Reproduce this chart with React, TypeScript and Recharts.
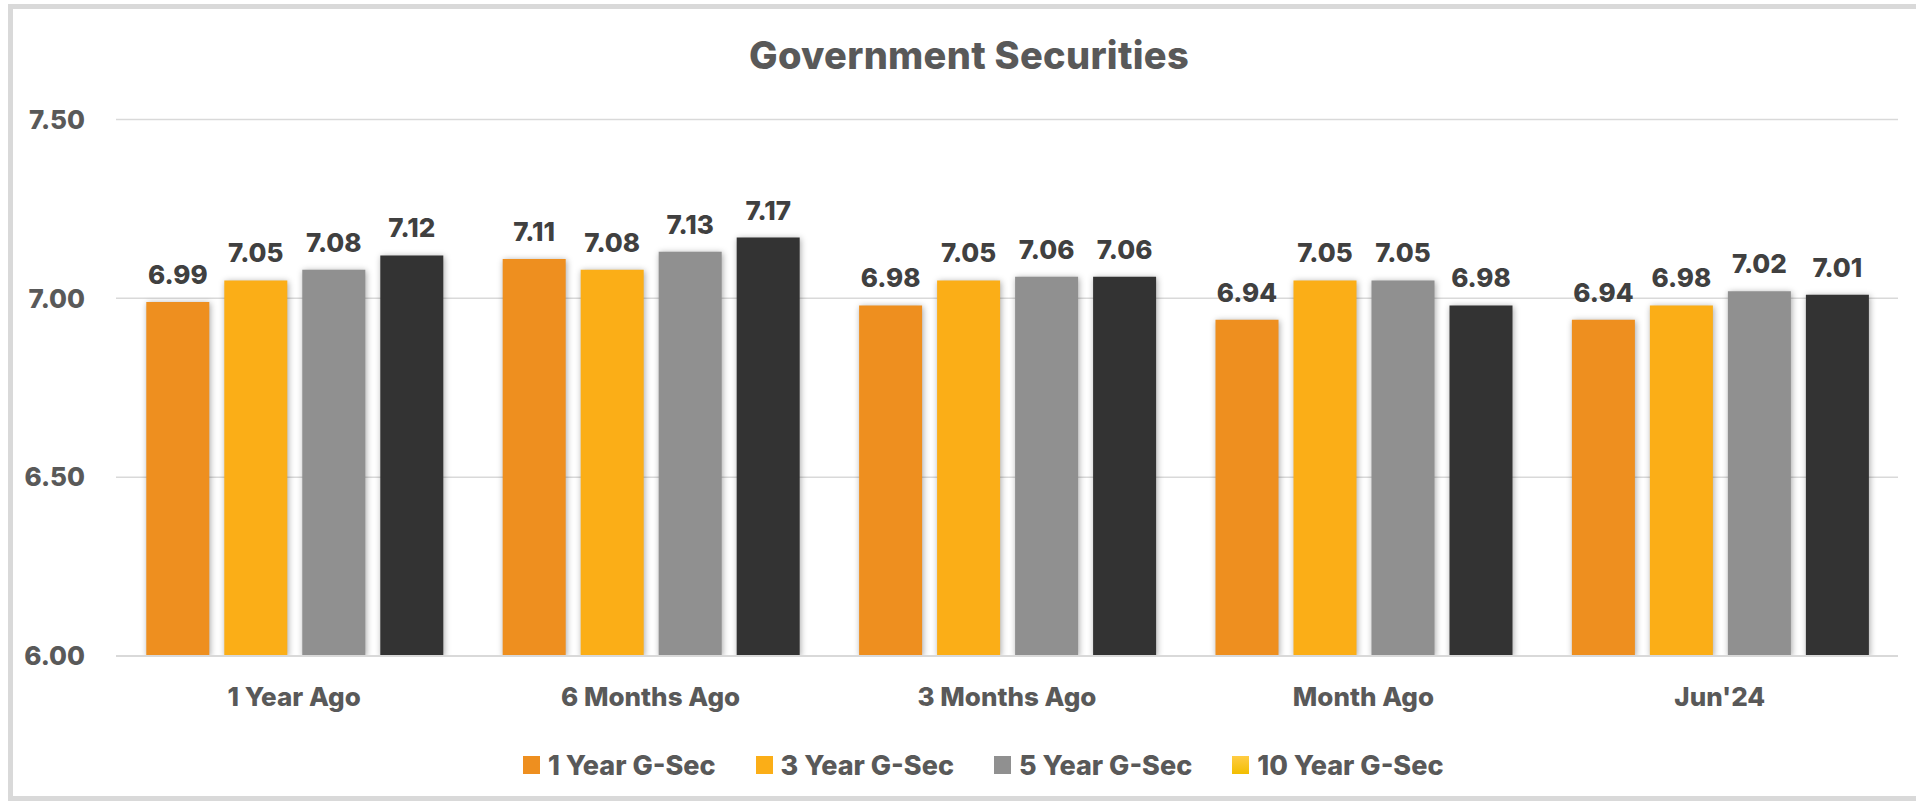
import React from 'react';
import { BarChart, Bar, XAxis, YAxis, CartesianGrid, LabelList, Rectangle } from 'recharts';

const categories = ['1 Year Ago', '6 Months Ago', '3 Months Ago', 'Month Ago', "Jun'24"];
const oneYear = [6.99, 7.11, 6.98, 6.94, 6.94];
const threeYear = [7.05, 7.08, 7.05, 7.05, 6.98];
const fiveYear = [7.08, 7.13, 7.06, 7.05, 7.02];
const tenYear = [7.12, 7.17, 7.06, 6.98, 7.01];
const yTicks = [6.0, 6.5, 7.0, 7.5];

const seriesNames = ['1 Year G-Sec', '3 Year G-Sec', '5 Year G-Sec', '10 Year G-Sec'];
const seriesKeys = ['y1', 'y3', 'y5', 'y10'];
const barColors = ['#EE8F1F', '#FBAE17', '#909090', '#333333'];
const legendColors = ['#EE8F1F', '#FBAE17', '#909090', 'linear-gradient(#FFCC44, #F2BE00)'];

const data = categories.map((c, i) => ({
  name: c,
  y1: oneYear[i],
  y3: threeYear[i],
  y5: fiveYear[i],
  y10: tenYear[i],
}));

const FONT = 'Inter, "Open Sans", sans-serif';

const ShadowBar = (props: any) => (
  <Rectangle {...props} style={{ filter: 'drop-shadow(1px 1px 3px rgba(0,0,0,0.35))' }} />
);

export default function App() {
  return (
    <div style={{ position: 'absolute', left: 0, top: 0, width: 1916, height: 804, overflow: 'hidden', background: '#fff', fontFamily: FONT }}>
      <div style={{ position: 'absolute', left: 8, top: 4, width: 1930, height: 797, boxSizing: 'border-box', border: '5px solid #d9d9d9' }} />
      <div style={{ position: 'absolute', left: 0, top: 32, width: 1938, textAlign: 'center', fontSize: 38, fontWeight: 800, letterSpacing: 0.3, color: '#595959', lineHeight: '46px' }}>
        Government Securities
      </div>
      <div style={{ position: 'absolute', left: 0, top: 0 }}>
        <BarChart
          width={1916}
          height={804}
          data={data}
          margin={{ top: 119.5, right: 18, bottom: 88, left: 0 }}
          barCategoryGap="8.5%"
          barGap={15}
        >
          <CartesianGrid vertical={false} stroke="#d9d9d9" strokeWidth={1.5} />
          <XAxis
            dataKey="name"
            height={60}
            axisLine={{ stroke: '#d9d9d9', strokeWidth: 2 }}
            tickLine={false}
            tickSize={0}
            tickMargin={32}
            tick={{ fill: '#595959', fontSize: 26, fontWeight: 800, fontFamily: FONT }}
          />
          <YAxis
            width={116}
            domain={[6, 7.5]}
            ticks={yTicks}
            allowDataOverflow
            axisLine={false}
            tickLine={false}
            tickSize={0}
            tickMargin={31}
            tickFormatter={(v: number) => v.toFixed(2)}
            tick={{ fill: '#595959', fontSize: 26, fontWeight: 800, fontFamily: FONT }}
          />
          {seriesKeys.map((k, i) => (
            <Bar key={k} dataKey={k} name={seriesNames[i]} fill={barColors[i]} isAnimationActive={false} shape={ShadowBar}>
              <LabelList
                dataKey={k}
                position="top"
                offset={18}
                formatter={(v: number) => v.toFixed(2)}
                style={{ fill: '#404040', fontSize: 26, fontWeight: 800, fontFamily: FONT }}
              />
            </Bar>
          ))}
        </BarChart>
      </div>
      <div style={{ position: 'absolute', left: 523, top: 750, height: 30, display: 'flex', alignItems: 'center', gap: 40 }}>
        {seriesNames.map((n, i) => (
          <div key={n} style={{ display: 'flex', alignItems: 'center', gap: 8 }}>
            <div style={{ width: 17, height: 18, background: legendColors[i] }} />
            <span style={{ fontSize: 27, fontWeight: 800, letterSpacing: 0, color: '#595959', whiteSpace: 'nowrap' }}>{n}</span>
          </div>
        ))}
      </div>
    </div>
  );
}
